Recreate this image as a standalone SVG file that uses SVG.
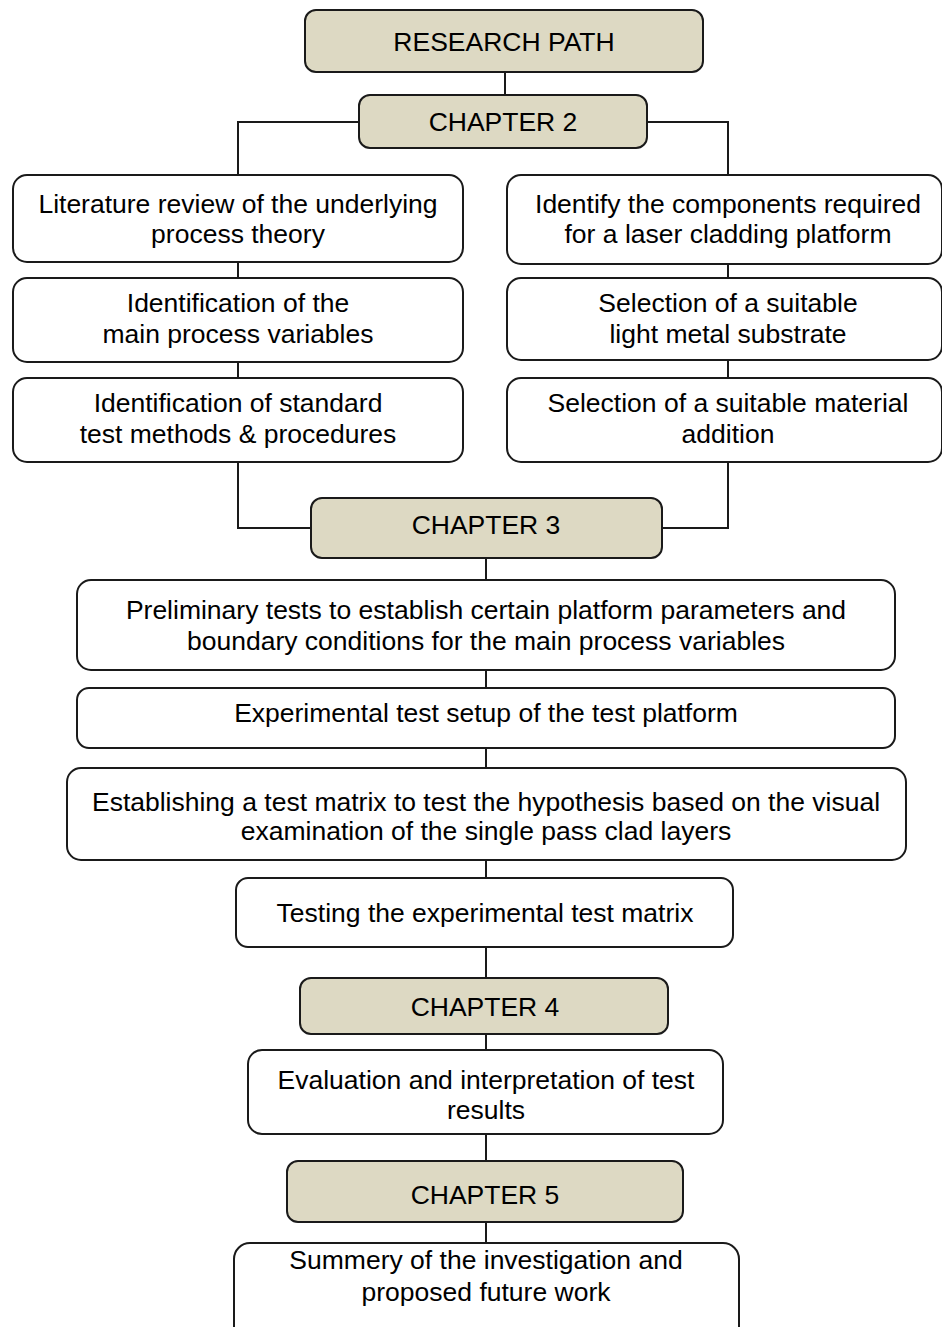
<svg xmlns="http://www.w3.org/2000/svg" width="942" height="1327" viewBox="0 0 942 1327">
<style>
.box{fill:#ffffff;stroke:#1a1a1a;stroke-width:2}
.ch{fill:#ddd9c3;stroke:#1a1a1a;stroke-width:2}
.t{font-family:"Liberation Sans",Arial,sans-serif;font-size:26.5px;fill:#000;text-anchor:middle}
.c{fill:none;stroke:#1a1a1a;stroke-width:2}
</style>
<rect width="942" height="1327" fill="#fff"/>
<g id="connectors">
<path class="c" d="M505 72V95"/>
<path class="c" d="M359 122H238V175"/>
<path class="c" d="M647 122H728V175"/>
<path class="c" d="M238 262V278M238 362V378"/>
<path class="c" d="M728 264V278M728 360V378"/>
<path class="c" d="M238 462V528H311"/>
<path class="c" d="M728 462V528H662"/>
<path class="c" d="M486 558V580M486 670V688M486 748V768M486 860V878M486 947V978M486 1034V1050M486 1134V1161M486 1222V1243"/>
</g>
<g id="research-path"><rect class="ch" x="305" y="10" width="398" height="62" rx="11"/><text class="t" x="504" y="51">RESEARCH PATH</text></g>
<g id="chapter2"><rect class="ch" x="359" y="95" width="288" height="53" rx="11"/><text class="t" x="503" y="131">CHAPTER 2</text></g>
<g id="lit-review"><rect class="box" x="13" y="175" width="450" height="87" rx="14"/><text class="t" x="238" y="213">Literature review of the underlying</text><text class="t" x="238" y="243">process theory</text></g>
<g id="process-vars"><rect class="box" x="13" y="278" width="450" height="84" rx="14"/><text class="t" x="238" y="312">Identification of the</text><text class="t" x="238" y="343">main process variables</text></g>
<g id="test-methods"><rect class="box" x="13" y="378" width="450" height="84" rx="14"/><text class="t" x="238" y="412">Identification of standard</text><text class="t" x="238" y="443">test methods &amp; procedures</text></g>
<g id="components"><rect class="box" x="507" y="175" width="435" height="89" rx="14"/><text class="t" x="728" y="213">Identify the components required</text><text class="t" x="728" y="243">for a laser cladding platform</text></g>
<g id="substrate"><rect class="box" x="507" y="278" width="435" height="82" rx="14"/><text class="t" x="728" y="312">Selection of a suitable</text><text class="t" x="728" y="343">light metal substrate</text></g>
<g id="material"><rect class="box" x="507" y="378" width="435" height="84" rx="14"/><text class="t" x="728" y="412">Selection of a suitable material</text><text class="t" x="728" y="443">addition</text></g>
<g id="chapter3"><rect class="ch" x="311" y="498" width="351" height="60" rx="11"/><text class="t" x="486" y="534">CHAPTER 3</text></g>
<g id="preliminary"><rect class="box" x="77" y="580" width="818" height="90" rx="14"/><text class="t" x="486" y="619">Preliminary tests to establish certain platform parameters and</text><text class="t" x="486" y="650">boundary conditions for the main process variables</text></g>
<g id="setup"><rect class="box" x="77" y="688" width="818" height="60" rx="12"/><text class="t" x="486" y="722">Experimental test setup of the test platform</text></g>
<g id="matrix"><rect class="box" x="67" y="768" width="839" height="92" rx="14"/><text class="t" x="486" y="811">Establishing a test matrix to test the hypothesis based on the visual</text><text class="t" x="486" y="840">examination of the single pass clad layers</text></g>
<g id="testing"><rect class="box" x="236" y="878" width="497" height="69" rx="12"/><text class="t" x="485" y="922">Testing the experimental test matrix</text></g>
<g id="chapter4"><rect class="ch" x="300" y="978" width="368" height="56" rx="11"/><text class="t" x="485" y="1016">CHAPTER 4</text></g>
<g id="evaluation"><rect class="box" x="248" y="1050" width="475" height="84" rx="14"/><text class="t" x="486" y="1089">Evaluation and interpretation of test</text><text class="t" x="486" y="1119">results</text></g>
<g id="chapter5"><rect class="ch" x="287" y="1161" width="396" height="61" rx="11"/><text class="t" x="485" y="1204">CHAPTER 5</text></g>
<g id="summary"><rect class="box" x="234" y="1243" width="505" height="100" rx="16"/><text class="t" x="486" y="1269">Summery of the investigation and</text><text class="t" x="486" y="1301">proposed future work</text></g>
</svg>
